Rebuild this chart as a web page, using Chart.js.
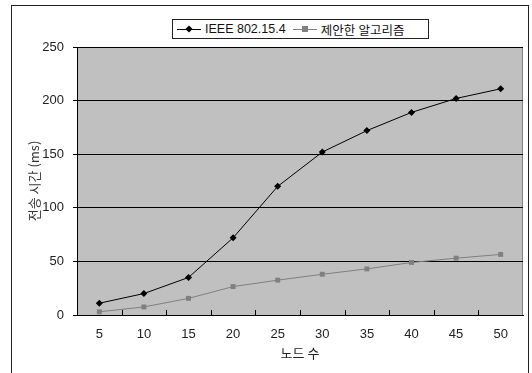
<!DOCTYPE html>
<html><head><meta charset="utf-8">
<script src="https://cdn.jsdelivr.net/npm/chart.js@4/dist/chart.umd.min.js"></script>
<style>
html,body{margin:0;padding:0;background:#fff;}
#wrap{position:relative;width:532px;height:373px;overflow:hidden;}
#frame{position:absolute;left:11px;top:5px;width:518px;height:400px;border:1px solid #222;box-sizing:border-box;}
#legend{position:absolute;left:172px;top:19px;width:257px;height:20px;border:1px solid #222;box-sizing:border-box;background:#fff;
 font-family:"Liberation Sans","Noto Sans CJK KR",sans-serif;font-size:12.5px;color:#111;display:flex;align-items:center;padding-left:4px;white-space:nowrap;}
.item{display:flex;align-items:center;margin-right:7px;}
.sym{position:relative;width:24px;height:10px;margin-right:4px;}
.sym .ln{position:absolute;left:0;right:0;top:5px;height:1px;}
.sym .mk{position:absolute;left:9px;top:2px;width:6px;height:6px;}
#c{position:absolute;left:0;top:0;}
</style></head>
<body><div id="wrap">
<div id="frame"></div>
<canvas id="c" width="532" height="373"></canvas>
<div id="legend"></div>
</div>
<script>
const categories = ["5","10","15","20","25","30","35","40","45","50"];
const seriesNames = ["IEEE 802.15.4","제안한 알고리즘"];
const ieeeValues = [11, 20, 35, 72, 120, 152, 172, 189, 202, 211];
const proposedValues = [3, 7.5, 15.5, 26.5, 32.5, 38, 43, 49, 53, 56.5];
const yTicks = [0, 50, 100, 150, 200, 250];
const xTitle = "노드 수";
const yTitle = "전송 시간 (ms)";

const colors = ["#000000", "#808080"];

// HTML legend
const leg = document.getElementById('legend');
seriesNames.forEach((n, i) => {
  const it = document.createElement('div'); it.className = 'item';
  const s = document.createElement('div'); s.className = 'sym';
  const ln = document.createElement('div'); ln.className = 'ln'; ln.style.background = colors[i];
  const mk = document.createElement('div'); mk.className = 'mk'; mk.style.background = colors[i];
  if (i === 0) { mk.style.transform = 'rotate(45deg) scale(0.85)'; }
  s.appendChild(ln); s.appendChild(mk);
  const t = document.createElement('span'); t.textContent = n;
  it.appendChild(s); it.appendChild(t); leg.appendChild(it);
});

const plotBg = {
  id: 'plotBg',
  beforeDraw(chart) {
    const a = chart.chartArea, ctx = chart.ctx;
    ctx.save();
    ctx.fillStyle = '#c0c0c0';
    ctx.fillRect(a.left, a.top, a.right - a.left, a.bottom - a.top);
    ctx.strokeStyle = '#808080'; ctx.lineWidth = 1;
    ctx.beginPath();
    ctx.moveTo(a.left, a.top + 0.5); ctx.lineTo(a.right - 0.5, a.top + 0.5); ctx.lineTo(a.right - 0.5, a.bottom);
    ctx.stroke();
    ctx.restore();
  },
  afterDatasetsDraw(chart) {
    const xs = chart.scales.x, a = chart.chartArea, ctx = chart.ctx;
    const step = xs.getPixelForTick(1) - xs.getPixelForTick(0);
    ctx.save();
    ctx.strokeStyle = '#000'; ctx.lineWidth = 1;
    ctx.beginPath();
    for (let i = 1; i < categories.length; i++) {
      const x = Math.round(xs.getPixelForTick(i) - step / 2) + 0.5;
      ctx.moveTo(x, a.bottom); ctx.lineTo(x, a.bottom - 5);
    }
    ctx.stroke();
    ctx.restore();
  }
};

const fontNum = {family: '"Liberation Sans","Noto Sans CJK KR",sans-serif', size: 13};
new Chart(document.getElementById('c'), {
  type: 'line',
  data: {
    labels: categories,
    datasets: [
      {label: seriesNames[0], data: ieeeValues, borderColor: colors[0], backgroundColor: colors[0], borderWidth: 1,
       pointStyle: 'rectRot', pointRadius: 3.5, pointBorderWidth: 0, tension: 0},
      {label: seriesNames[1], data: proposedValues, borderColor: colors[1], backgroundColor: colors[1], borderWidth: 1,
       pointStyle: 'rect', pointRadius: 3.5, pointBorderWidth: 0, tension: 0}
    ]
  },
  options: {
    responsive: false, animation: false, devicePixelRatio: 1,
    layout: {padding: {left: 22, top: 47, right: 9, bottom: 8}},
    plugins: {legend: {display: false}, tooltip: {enabled: false}},
    scales: {
      x: {
        offset: true,
        grid: {display: true, drawOnChartArea: false, drawTicks: false, offset: true, color: '#000'},
        border: {color: '#000', width: 1},
        ticks: {color: '#222', font: fontNum, padding: 12},
        title: {display: true, text: xTitle, color: '#222', font: {family: '"Noto Sans CJK KR",sans-serif', size: 13}, padding: {top: 0}},
        afterFit(s) { s.height = 50; }
      },
      y: {
        min: 0, max: 250,
        afterBuildTicks(s) { s.ticks = yTicks.map(v => ({value: v})); },
        grid: {color: '#000', tickLength: 4, tickColor: '#000'},
        border: {color: '#000', width: 1},
        ticks: {color: '#222', font: fontNum, padding: 9},
        title: {display: true, text: yTitle, color: '#333', font: {family: '"Noto Sans CJK KR",sans-serif', size: 13}, padding: {bottom: 0}},
        afterFit(s) { s.width = 55; }
      }
    }
  },
  plugins: [plotBg]
});
</script>
</body></html>
